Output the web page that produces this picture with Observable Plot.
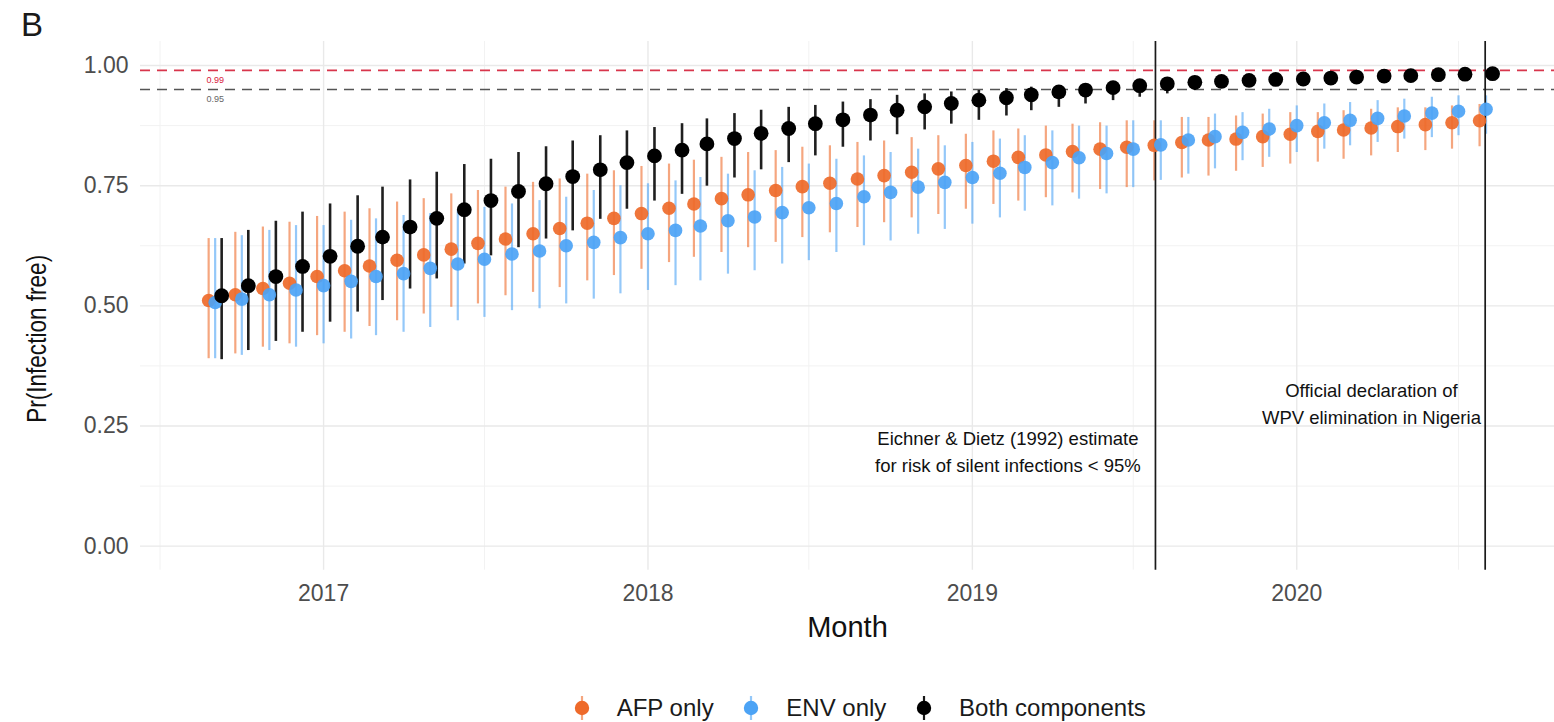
<!DOCTYPE html>
<html>
<head>
<meta charset="utf-8">
<script src="https://cdn.jsdelivr.net/npm/d3@7"></script>
<script src="https://cdn.jsdelivr.net/npm/@observablehq/plot@0.6"></script>
<style>
  html, body { margin: 0; padding: 0; background: #fff; }
  body { width: 1554px; height: 722px; overflow: hidden; position: relative;
         font-family: "Liberation Sans", Arial, sans-serif; }
  #chart { position: absolute; left: 0; top: 0; }
  #tag { position: absolute; left: 21px; top: 6px; font-size: 33px; color: #1a1a1a; }
  #legend { position: absolute; top: 693px; left: 571.7px; height: 30px;
            display: flex; align-items: center; font-size: 24px; color: #1a1a1a; }
  #legend .key { width: 20px; height: 30px; display: block; }
  #legend .lab { margin-left: 25px; margin-right: 27.7px; white-space: nowrap; }
</style>
</head>
<body>
<div id="chart"></div>
<div id="tag">B</div>
<div id="legend"></div>
<script>
// Monthly estimates of the probability of being infection free, by surveillance component
const months = [
  "2016-09","2016-10","2016-11","2016-12",
  "2017-01","2017-02","2017-03","2017-04","2017-05","2017-06","2017-07","2017-08","2017-09","2017-10","2017-11","2017-12",
  "2018-01","2018-02","2018-03","2018-04","2018-05","2018-06","2018-07","2018-08","2018-09","2018-10","2018-11","2018-12",
  "2019-01","2019-02","2019-03","2019-04","2019-05","2019-06","2019-07","2019-08","2019-09","2019-10","2019-11","2019-12",
  "2020-01","2020-02","2020-03","2020-04","2020-05","2020-06","2020-07","2020-08"
];

const seriesNames = ["AFP only", "ENV only", "Both components"];

const afpMid = [0.511,0.523,0.536,0.547,0.561,0.573,0.583,0.595,0.606,0.618,0.630,0.639,0.650,0.661,0.672,0.682,
  0.692,0.703,0.712,0.723,0.731,0.740,0.748,0.755,0.764,0.771,0.778,0.785,0.792,0.801,0.809,0.814,
  0.821,0.826,0.830,0.834,0.840,0.845,0.847,0.852,0.857,0.863,0.866,0.870,0.873,0.877,0.881,0.885];
const afpLo = [0.390,0.400,0.414,0.421,0.438,0.445,0.457,0.469,0.483,0.497,0.504,0.521,0.528,0.538,0.552,0.563,
  0.576,0.590,0.601,0.611,0.621,0.632,0.642,0.652,0.663,0.673,0.683,0.690,0.701,0.711,0.718,0.725,
  0.735,0.742,0.746,0.760,0.766,0.770,0.780,0.788,0.795,0.799,0.805,0.812,0.819,0.823,0.826,0.831];
const afpHi = [0.640,0.653,0.664,0.674,0.686,0.695,0.702,0.716,0.723,0.733,0.740,0.747,0.757,0.764,0.774,0.781,
  0.790,0.795,0.803,0.809,0.819,0.823,0.830,0.833,0.840,0.843,0.850,0.854,0.857,0.864,0.868,0.874,
  0.878,0.881,0.885,0.885,0.892,0.892,0.895,0.899,0.902,0.902,0.906,0.909,0.912,0.912,0.916,0.919];

const envMid = [0.507,0.514,0.523,0.533,0.542,0.551,0.561,0.567,0.578,0.587,0.597,0.608,0.614,0.625,0.632,0.642,
  0.650,0.657,0.666,0.677,0.685,0.694,0.704,0.713,0.727,0.736,0.747,0.757,0.767,0.776,0.788,0.798,
  0.808,0.817,0.826,0.835,0.845,0.852,0.861,0.868,0.875,0.881,0.886,0.890,0.895,0.901,0.905,0.909];
const envLo = [0.390,0.397,0.407,0.414,0.421,0.431,0.438,0.445,0.455,0.469,0.476,0.490,0.494,0.504,0.514,0.525,
  0.532,0.542,0.552,0.566,0.573,0.587,0.594,0.611,0.625,0.635,0.649,0.659,0.670,0.683,0.697,0.708,
  0.722,0.733,0.746,0.761,0.774,0.785,0.802,0.809,0.819,0.826,0.833,0.840,0.847,0.850,0.854,0.857];
const envHi = [0.640,0.646,0.657,0.667,0.667,0.678,0.681,0.688,0.692,0.698,0.705,0.712,0.719,0.726,0.740,0.750,
  0.754,0.760,0.767,0.774,0.781,0.788,0.795,0.805,0.812,0.819,0.826,0.833,0.840,0.847,0.854,0.864,
  0.874,0.874,0.885,0.885,0.892,0.899,0.902,0.909,0.916,0.920,0.923,0.927,0.930,0.934,0.937,0.937];

const bothMid = [0.521,0.542,0.561,0.582,0.603,0.624,0.643,0.664,0.682,0.700,0.719,0.738,0.754,0.769,0.783,0.798,
  0.812,0.824,0.837,0.848,0.859,0.869,0.879,0.887,0.897,0.907,0.914,0.921,0.928,0.933,0.939,0.945,
  0.949,0.954,0.958,0.962,0.965,0.967,0.969,0.971,0.972,0.974,0.976,0.978,0.979,0.981,0.982,0.983];
const bothLo = [0.388,0.407,0.426,0.445,0.466,0.487,0.511,0.535,0.556,0.587,0.604,0.621,0.639,0.656,0.680,0.701,
  0.718,0.732,0.749,0.766,0.783,0.798,0.812,0.830,0.843,0.856,0.866,0.878,0.886,0.895,0.906,0.913,
  0.920,0.927,0.934,0.941,0.948,0.953,0.956,0.959,0.961,0.963,0.966,0.968,0.970,0.972,0.974,0.975];
const bothHi = [0.640,0.657,0.676,0.695,0.712,0.729,0.747,0.762,0.778,0.794,0.805,0.819,0.831,0.843,0.854,0.864,
  0.871,0.879,0.889,0.900,0.907,0.913,0.917,0.924,0.929,0.938,0.941,0.945,0.948,0.952,0.955,0.958,
  0.958,0.962,0.965,0.970,0.972,0.974,0.976,0.978,0.979,0.980,0.982,0.984,0.985,0.986,0.987,0.988];

// Reference thresholds and event markers
const thresholds = [0.99, 0.95];
const thresholdLabels = ["0.99", "0.95"];
const eventDates = ["2019-07-26", "2020-07-31"];
const notes = [
  {date: "2019-02-10", y: 0.2, text: "Eichner & Dietz (1992) estimate\nfor risk of silent infections < 95%"},
  {date: "2020-03-25", y: 0.3, text: "Official declaration of\nWPV elimination in Nigeria"}
];

// Axis ticks and grid
const yMajor = [0, 0.25, 0.5, 0.75, 1];
const yMinor = [0.125, 0.375, 0.625, 0.875];
const xMajor = ["2017-01-01", "2018-01-01", "2019-01-01", "2020-01-01"];
const xMinor = ["2016-07-01", "2017-07-01", "2018-07-01", "2019-07-01", "2020-07-01"];
const yTitle = "Pr(Infection free)";

const colors = ["#EE6A2A", "#4CA3F5", "#000000"];
const shifts = [-6.5, 0, 6.5];

const toDate = (s) => new Date(s.length === 7 ? s + "-01" : s);
const values = [[afpMid, afpLo, afpHi], [envMid, envLo, envHi], [bothMid, bothLo, bothHi]];
const rows = seriesNames.map((name, k) =>
  months.map((m, i) => ({series: name, date: toDate(m), mid: values[k][0][i], lo: values[k][1][i], hi: values[k][2][i]}))
);

const barStyle = [
  {strokeWidth: 2.2, strokeOpacity: 0.6},
  {strokeWidth: 2.2, strokeOpacity: 0.6},
  {strokeWidth: 2.6, strokeOpacity: 0.88}
];
const dotRadius = [6.8, 6.8, 7.4];
const dotOpacity = [0.92, 0.92, 1];

const marks = [
  Plot.ruleY(yMinor, {stroke: "#f2f2f2", strokeWidth: 1}),
  Plot.ruleX(xMinor.map(toDate), {stroke: "#f2f2f2", strokeWidth: 1}),
  Plot.ruleY(yMajor, {stroke: "#e9e9e9", strokeWidth: 1.4}),
  Plot.ruleX(xMajor.map(toDate), {stroke: "#e9e9e9", strokeWidth: 1.4}),
  Plot.ruleY([thresholds[0]], {stroke: "#d8364c", strokeWidth: 1.6, strokeDasharray: "10,7"}),
  Plot.ruleY([thresholds[1]], {stroke: "#555555", strokeWidth: 1.5, strokeDasharray: "10,7"}),
  Plot.text([thresholdLabels[0]], {x: toDate(months[0]), y: thresholds[0], dy: 10, fontSize: 9, fill: "#d8203c"}),
  Plot.text([thresholdLabels[1]], {x: toDate(months[0]), y: thresholds[1], dy: 10, fontSize: 9, fill: "#666666"})
];

rows.forEach((r, k) => {
  marks.push(Plot.ruleX(r, {x: "date", y1: "lo", y2: "hi", stroke: colors[k], dx: shifts[k], ...barStyle[k]}));
});

marks.push(Plot.ruleX(eventDates.map(toDate), {stroke: "#1a1a1a", strokeWidth: 1.7}));

rows.forEach((r, k) => {
  marks.push(Plot.dot(r, {x: "date", y: "mid", r: dotRadius[k], fill: colors[k], fillOpacity: dotOpacity[k], stroke: "none", dx: shifts[k]}));
});

notes.forEach((n) => {
  marks.push(Plot.text([n.text], {x: toDate(n.date), y: n.y, fontSize: 18.5, lineHeight: 1.45,
    textAnchor: "middle", lineAnchor: "middle", fill: "#111"}));
});

marks.push(
  Plot.axisY({ticks: yMajor, tickSize: 0, tickPadding: 12, tickFormat: d3.format(".2f"), fontSize: 23, color: "#4d4d4d", label: null}),
  Plot.axisX({ticks: xMajor.map(toDate), tickSize: 0, tickPadding: 14, tickFormat: d3.utcFormat("%Y"), fontSize: 23, color: "#4d4d4d", label: null}),
  Plot.text(["Month"], {frameAnchor: "bottom", dy: 57.5, fontSize: 29, lineAnchor: "middle", fill: "#111"}),
  Plot.text([yTitle], {frameAnchor: "left", dx: -103, dy: 33, rotate: -90, fontSize: 27,
    textAnchor: "middle", lineAnchor: "middle", fill: "#111"})
);

const chart = Plot.plot({
  width: 1554,
  height: 660,
  marginLeft: 140,
  marginRight: 0,
  marginTop: 41,
  marginBottom: 90.3,
  style: {fontFamily: "'Liberation Sans', Arial, sans-serif", background: "white", overflow: "visible"},
  x: {type: "utc", domain: [toDate("2016-06-09"), toDate("2020-10-17")]},
  y: {domain: [-0.05, 1.05]},
  marks
});
document.getElementById("chart").appendChild(chart);

// Keep the rotated axis title compact along its length
chart.querySelectorAll("text").forEach((t) => {
  if (t.textContent === yTitle) {
    t.setAttribute("textLength", 168);
    t.setAttribute("lengthAdjust", "spacingAndGlyphs");
  }
});

// Legend: a point with its interval line for each series
const legend = document.getElementById("legend");
seriesNames.forEach((name, k) => {
  const ns = "http://www.w3.org/2000/svg";
  const svg = document.createElementNS(ns, "svg");
  svg.setAttribute("class", "key");
  svg.setAttribute("viewBox", "0 0 20 30");
  const line = document.createElementNS(ns, "line");
  line.setAttribute("x1", 10); line.setAttribute("x2", 10);
  line.setAttribute("y1", 3); line.setAttribute("y2", 27);
  line.setAttribute("stroke", colors[k]);
  line.setAttribute("stroke-width", 2.2);
  line.setAttribute("stroke-opacity", k === 2 ? 0.9 : 0.6);
  const dot = document.createElementNS(ns, "circle");
  dot.setAttribute("cx", 10); dot.setAttribute("cy", 15); dot.setAttribute("r", 7.2);
  dot.setAttribute("fill", colors[k]);
  svg.appendChild(line); svg.appendChild(dot);
  const lab = document.createElement("span");
  lab.className = "lab";
  lab.textContent = name;
  legend.appendChild(svg);
  legend.appendChild(lab);
});
</script>
</body>
</html>
